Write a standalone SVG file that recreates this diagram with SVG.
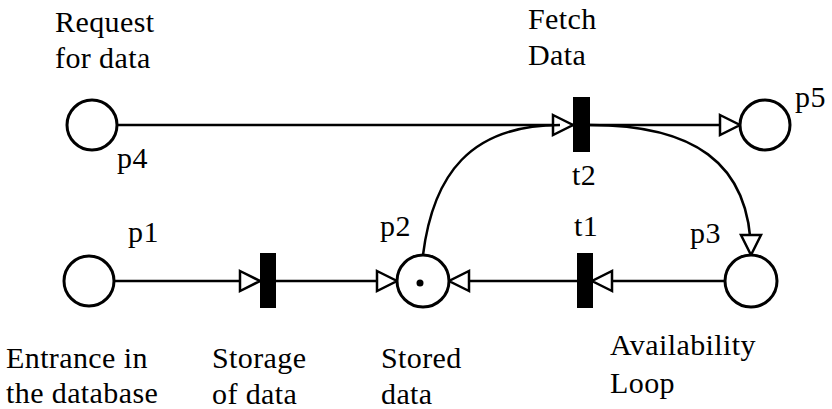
<svg xmlns="http://www.w3.org/2000/svg" width="832" height="409" viewBox="0 0 832 409">
<style>
.place{fill:#fff;stroke:#000;stroke-width:3}
.trans{fill:#000;stroke:none}
.arc{fill:none;stroke:#000;stroke-width:2.5}
.lbl{font-family:'Liberation Serif','Times New Roman',serif;font-size:30px;fill:#000;letter-spacing:0.4px}
</style>
<defs>
<marker id="ah" markerUnits="userSpaceOnUse" markerWidth="24" markerHeight="24" refX="21" refY="11" orient="auto" overflow="visible">
<path d="M1,1 L21,11 L1,21 Z" fill="#fff" stroke="#000" stroke-width="2.5" stroke-linejoin="miter"/>
</marker>
</defs>
<rect width="832" height="409" fill="#fff"/>
<g id="connectors">
<path class="arc" d="M117,125 L573,125" marker-end="url(#ah)"/>
<path class="arc" d="M423,255 C433,175 470,125 560,125"/>
<path class="arc" d="M590,125 L740,125" marker-end="url(#ah)"/>
<path class="arc" d="M590,125 C690,125 751,160 751,255" marker-end="url(#ah)"/>
<path class="arc" d="M114,281 L260,281" marker-end="url(#ah)"/>
<path class="arc" d="M276,281 L397,281" marker-end="url(#ah)"/>
<path class="arc" d="M577,281 L449,281" marker-end="url(#ah)"/>
<path class="arc" d="M725,281 L592,281" marker-end="url(#ah)"/>
</g>
<g id="p4"><circle class="place" cx="92" cy="125" r="25"/><text class="lbl" x="117" y="168">p4</text>
<text class="lbl" x="55" y="32">Request</text>
<text class="lbl" x="55" y="68">for data</text></g>
<g id="t2"><rect class="trans" x="573" y="97" width="17" height="55"/><text class="lbl" x="572" y="185">t2</text>
<text class="lbl" x="528" y="29">Fetch</text>
<text class="lbl" x="528" y="65">Data</text></g>
<g id="p5"><circle class="place" cx="765" cy="125" r="25"/><text class="lbl" x="795" y="107">p5</text></g>
<g id="p1"><circle class="place" cx="89" cy="281" r="25"/><text class="lbl" x="128" y="242">p1</text>
<text class="lbl" x="6" y="368">Entrance in</text>
<text class="lbl" x="6" y="403">the database</text></g>
<g id="t0"><rect class="trans" x="260" y="253" width="16" height="55"/>
<text class="lbl" x="212" y="368">Storage</text>
<text class="lbl" x="212" y="404">of data</text></g>
<g id="p2"><circle class="place" cx="423" cy="281" r="26"/><circle cx="420" cy="283" r="3.5" fill="#000"/><text class="lbl" x="380" y="236">p2</text>
<text class="lbl" x="381" y="368">Stored</text>
<text class="lbl" x="381" y="404">data</text></g>
<g id="t1"><rect class="trans" x="577" y="253" width="16" height="55"/><text class="lbl" x="574" y="236">t1</text></g>
<g id="p3"><circle class="place" cx="751" cy="281" r="26"/><text class="lbl" x="690" y="243">p3</text>
<text class="lbl" x="610" y="355">Availability</text>
<text class="lbl" x="610" y="393">Loop</text></g>
</svg>
